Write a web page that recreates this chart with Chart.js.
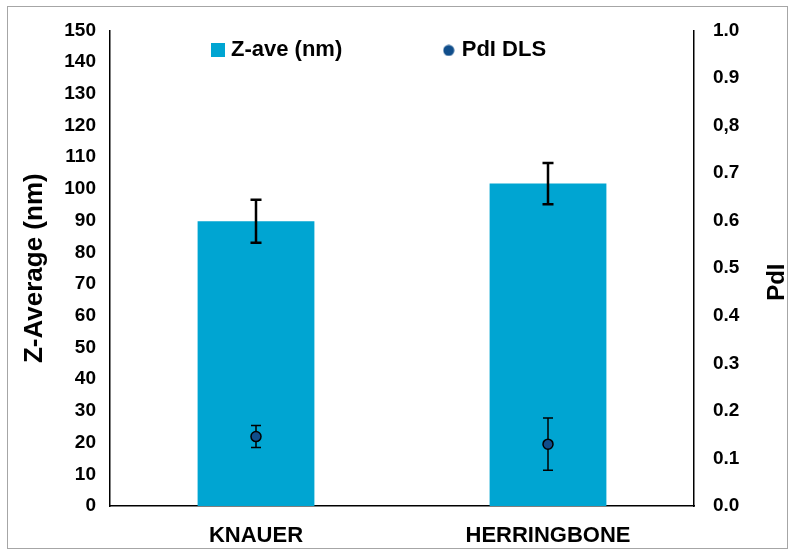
<!DOCTYPE html>
<html>
<head>
<meta charset="utf-8">
<script src="https://cdn.jsdelivr.net/npm/chart.js@4.4.1/dist/chart.umd.min.js"></script>
<style>
html,body{margin:0;padding:0;background:#fff;}
#wrap{position:relative;width:794px;height:556px;}
#frame{position:absolute;left:7px;top:6px;width:781px;height:543px;border:1px solid #a6a6a6;pointer-events:none;box-sizing:border-box;}
canvas{display:block;}
</style>
</head>
<body>
<div id="wrap"><canvas id="c" width="794" height="556"></canvas><div id="frame"></div></div>
<script>
// ---- data ----
const categories = ['KNAUER', 'HERRINGBONE'];
const zAve = [89.8, 101.7];
const zAveErr = [6.8, 6.5];
const pdi = [0.146, 0.130];
const pdiErr = [0.023, 0.055];
const seriesLabels = ['Z-ave (nm)', 'PdI DLS'];
const leftTitle = 'Z-Average (nm)';
const rightTitle = 'PdI';
const leftTickValues = [0, 10, 20, 30, 40, 50, 60, 70, 80, 90, 100, 110, 120, 130, 140, 150];
const leftTickLabels = ['0', '10', '20', '30', '40', '50', '60', '70', '80', '90', '100', '110', '120', '130', '140', '150'];
const rightTickValues = [0, 0.1, 0.2, 0.3, 0.4, 0.5, 0.6, 0.7, 0.8, 0.9, 1.0];
const rightTickLabels = ['0.0', '0.1', '0.2', '0.3', '0.4', '0.5', '0.6', '0.7', '0,8', '0.9', '1.0'];

// ---- styles ----
const FONT = "'Liberation Sans', Arial, Helvetica, sans-serif";
const BAR_COLOR = '#00A5D2';
const PT_COLOR = '#104E8B';

function makeMarker(kind) {
  const c = document.createElement('canvas');
  const g = c.getContext('2d');
  if (kind === 'rect') {
    c.width = 14; c.height = 14;
    g.fillStyle = BAR_COLOR; g.fillRect(0, 0, 14, 14);
  } else {
    c.width = 12; c.height = 12;
    g.fillStyle = PT_COLOR; g.beginPath(); g.arc(6, 6, 5.5, 0, Math.PI * 2); g.fill();
  }
  return c;
}
const markers = [makeMarker('rect'), makeMarker('circle')];

function drawErr(ctx, x, yTop, yBot, half) {
  ctx.beginPath();
  ctx.moveTo(x, yTop); ctx.lineTo(x, yBot);
  ctx.moveTo(x - half, yTop); ctx.lineTo(x + half, yTop);
  ctx.moveTo(x - half, yBot); ctx.lineTo(x + half, yBot);
  ctx.stroke();
}

const errorBarPlugin = {
  id: 'errorBars',
  afterDatasetDraw(chart, args) {
    if (args.index !== 0) return;
    const ctx = chart.ctx;
    const y = chart.scales.y, y1 = chart.scales.y1;
    ctx.save();
    ctx.strokeStyle = '#000';
    ctx.lineWidth = 2.5;
    chart.getDatasetMeta(0).data.forEach((el, i) => {
      drawErr(ctx, el.x, y.getPixelForValue(zAve[i] + zAveErr[i]), y.getPixelForValue(zAve[i] - zAveErr[i]), 5.5);
    });
    ctx.lineWidth = 1.5;
    chart.getDatasetMeta(1).data.forEach((el, i) => {
      drawErr(ctx, el.x, y1.getPixelForValue(pdi[i] + pdiErr[i]), y1.getPixelForValue(pdi[i] - pdiErr[i]), 5);
    });
    ctx.restore();
  }
};

// place the (1px-tall) top legend inside the plot area, as in the reference
const legendPlace = {
  id: 'legendPlace',
  afterLayout(chart) {
    const lg = chart.legend;
    if (!lg) return;
    const pad = lg.options.labels.padding;
    const ca = chart.chartArea;
    lg.left = ca.left + 106 - pad;
    lg.right = lg.left + 1500;
    lg.width = lg.right - lg.left;
    lg.top = ca.top + 9 - pad;
    lg.bottom = lg.top + pad + 60;
    lg.height = lg.bottom - lg.top;
  }
};

const rightTitlePlugin = {
  id: 'rightTitle',
  afterDraw(chart) {
    const ctx = chart.ctx;
    const ca = chart.chartArea;
    ctx.save();
    ctx.translate(chart.width - 17, (ca.top + ca.bottom) / 2 + 14);
    ctx.rotate(-Math.PI / 2);
    ctx.font = 'bold 24px ' + FONT;
    ctx.fillStyle = '#000';
    ctx.textAlign = 'center';
    ctx.textBaseline = 'middle';
    ctx.fillText(rightTitle, 0, 0);
    ctx.restore();
  }
};

new Chart(document.getElementById('c'), {
  data: {
    labels: categories,
    datasets: [
      {
        type: 'bar',
        label: seriesLabels[0],
        data: zAve,
        yAxisID: 'y',
        backgroundColor: BAR_COLOR,
        borderWidth: 0,
        barPercentage: 0.4,
        categoryPercentage: 1.0,
        order: 2
      },
      {
        type: 'line',
        label: seriesLabels[1],
        data: pdi,
        yAxisID: 'y1',
        showLine: false,
        pointRadius: 5,
        pointHoverRadius: 5,
        pointBackgroundColor: PT_COLOR,
        pointBorderColor: '#000',
        pointBorderWidth: 1.5,
        backgroundColor: PT_COLOR,
        borderColor: '#000',
        order: 1
      }
    ]
  },
  options: {
    responsive: false,
    animation: false,
    devicePixelRatio: 1,
    layout: { padding: { left: 14, right: 0, top: 29, bottom: 0 } },
    plugins: {
      tooltip: { enabled: false },
      legend: {
        position: 'top',
        align: 'start',
        maxHeight: 1,
        labels: {
          usePointStyle: true,
          boxWidth: 4,
          padding: 104.5,
          color: '#000',
          font: { family: FONT, size: 22, weight: 'bold' },
          sort: (a, b) => a.datasetIndex - b.datasetIndex,
          generateLabels(chart) {
            const items = Chart.defaults.plugins.legend.labels.generateLabels(chart);
            items.forEach(it => { it.pointStyle = markers[it.datasetIndex]; it.lineWidth = 0; });
            return items;
          }
        }
      }
    },
    scales: {
      x: {
        type: 'category',
        grid: { display: false, drawTicks: false },
        border: { display: true, color: '#000', width: 1.5 },
        ticks: { color: '#000', padding: 17, font: { family: FONT, size: 22, weight: 'bold' } },
        afterFit(s) { s.height = 50; }
      },
      y: {
        position: 'left',
        min: 0, max: 150,
        grid: { display: false, drawTicks: false },
        border: { display: true, color: '#000', width: 1.5 },
        afterBuildTicks(s) { s.ticks = leftTickValues.map(v => ({ value: v })); },
        ticks: {
          color: '#000', padding: 14,
          font: { family: FONT, size: 19, weight: 'bold' },
          callback: (v, i) => leftTickLabels[i]
        },
        title: { display: true, text: leftTitle, color: '#000', padding: { top: 5, bottom: 0 }, font: { family: FONT, size: 26, weight: 'bold' } },
        afterFit(s) { s.width = 96; }
      },
      y1: {
        position: 'right',
        min: 0, max: 1,
        grid: { display: false, drawTicks: false },
        border: { display: true, color: '#000', width: 1.5 },
        afterBuildTicks(s) { s.ticks = rightTickValues.map(v => ({ value: v })); },
        ticks: {
          color: '#000', padding: 19,
          font: { family: FONT, size: 19, weight: 'bold' },
          callback: (v, i) => rightTickLabels[i]
        },
        afterFit(s) { s.width = 100; }
      }
    }
  },
  plugins: [errorBarPlugin, legendPlace, rightTitlePlugin]
});
</script>
</body>
</html>
